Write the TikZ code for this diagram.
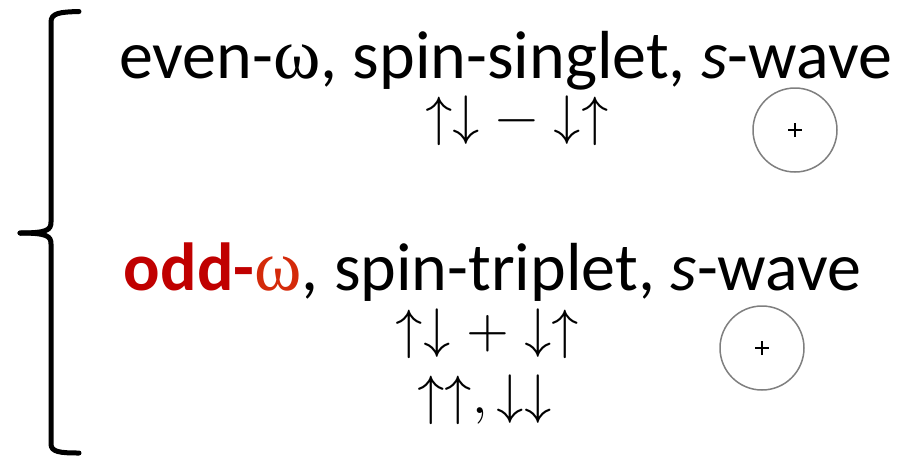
\documentclass[tikz,border=0pt]{standalone}
\usepackage{fontspec}
\setmainfont{Carlito}
\newfontfamily\greekfont{Liberation Serif}
\usepackage{unicode-math}
\setmathfont{Latin Modern Math}
\definecolor{oddred}{HTML}{C00000}
\definecolor{omegared}{HTML}{D42A0A}
\definecolor{circgray}{HTML}{7F7F7F}
\tikzset{
  headline/.style={inner sep=0pt, anchor=base, font=\fontsize{68}{80}\selectfont},
  spins/.style={inner sep=0pt, anchor=base, font=\fontsize{55}{64}\selectfont},
  orbital/.style={circle, draw=circgray, line width=1.5pt, minimum size=84pt, inner sep=0pt},
  bracestroke/.style={line width=5pt, line cap=round, line join=round},
  plusmark/.style={line width=2.5pt},
}
\begin{document}
\begin{tikzpicture}[x=1pt,y=-1pt]
\useasboundingbox (0,0) rectangle (900,459);
% brace
\draw[bracestroke] (79,11.5) .. controls (60,12) and (51,13) .. (51,22) -- (51,222)
  .. controls (51,230) and (47,233) .. (20,233);
\draw[bracestroke] (20,233) .. controls (47,233) and (51,236) .. (51,244) -- (51,444)
  .. controls (51,452) and (60,453) .. (79,453);
% lines of text
\node[headline] (l1) at (505.5,78) {even-{\greekfont\fontsize{72}{80}\selectfont ω}, spin-singlet, \textit{s}-wave};
\node[spins] (s1) at (517,134) {$\uparrow\downarrow - \downarrow\uparrow$};
\node[headline] (l2) at (492.5,290) {\textbf{\textcolor{oddred}{odd-}}\textcolor{omegared}{\greekfont\fontsize{72}{80}\selectfont ω}, spin-triplet, \textit{s}-wave};
\node[spins] (s2) at (487.5,347) {$\uparrow\downarrow + \downarrow\uparrow$};
\node[spins] (s3) at (484.5,413) {$\uparrow\uparrow, \downarrow\downarrow$};
% orbitals
\node[orbital] (c1) at (795,130) {};
\node[orbital] (c2) at (762,348) {};
\draw[plusmark] ([xshift=-7pt]c1.center) -- ([xshift=7pt]c1.center)
  ([yshift=-7pt]c1.center) -- ([yshift=7pt]c1.center);
\draw[plusmark] ([xshift=-7pt]c2.center) -- ([xshift=7pt]c2.center)
  ([yshift=-7pt]c2.center) -- ([yshift=7pt]c2.center);
\end{tikzpicture}
\end{document}
